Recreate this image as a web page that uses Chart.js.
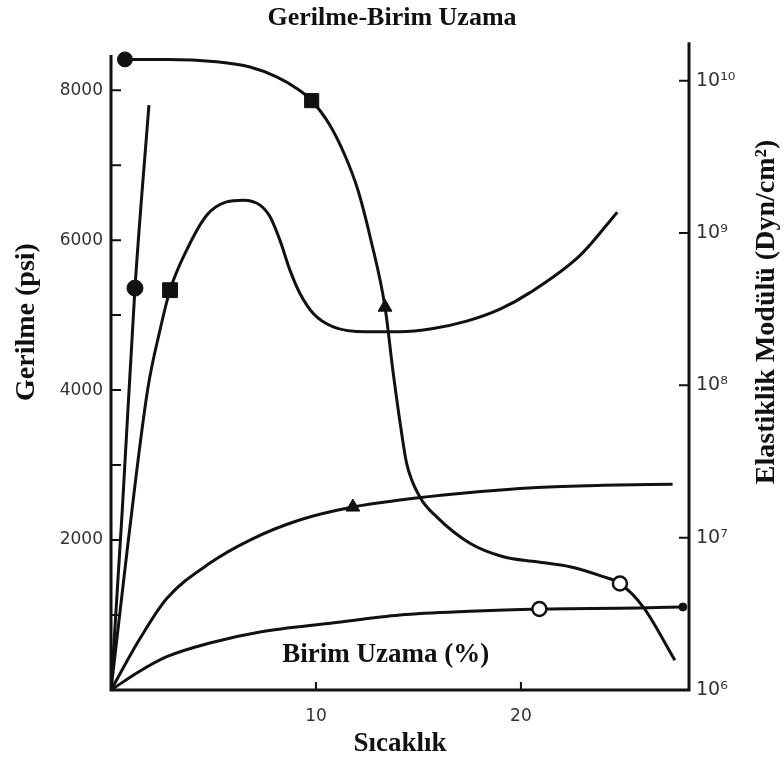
<!DOCTYPE html>
<html>
<head>
<meta charset="utf-8">
<title>Gerilme-Birim Uzama</title>
<script src="https://cdn.jsdelivr.net/npm/chart.js@4.4.1/dist/chart.umd.min.js"></script>
<style>
  html, body { margin: 0; padding: 0; background: #fff; }
  #chart { display: block; }
</style>
</head>
<body>
<canvas id="chart" width="784" height="760"></canvas>
<script>
// elastiklik modülü (sağ eksen, log) - sıcaklığa göre
var modulusX = [0.68, 2.72, 5.16, 6.78, 8.08, 9.06, 9.79, 10.68, 11.41, 12.05, 12.68, 13.37, 13.77, 14.18, 14.42, 15.07, 15.89, 17.51, 19.14, 20.77, 22.39, 24.01, 24.83, 25.97, 27.51];
var modulusY = [1.38e10, 1.38e10, 1.33e10, 1.23e10, 1.06e10, 8.9e9, 7.4e9, 5.1e9, 3.24e9, 1.91e9, 9.0e8, 3.26e8, 1.2e8, 4.85e7, 3.09e7, 1.85e7, 1.37e7, 9.2e6, 7.5e6, 6.95e6, 6.45e6, 5.55e6, 5.0e6, 3.5e6, 1.57e6];

// gerilme - birim uzama eğrileri (sol eksen, psi)
var curveAX = [0, 0.55, 1.17, 1.85];
var curveAY = [0, 2400, 5360, 7800];

var curveBX = [0, 0.83, 1.8, 2.39, 2.88, 3.69, 4.67, 5.64, 6.45, 7.27, 7.76, 8.24, 8.73, 9.22, 9.87, 10.84, 12.47, 14.1, 15.72, 17.35, 18.98, 20.44, 22.9, 24.7];
var curveBY = [0, 1960, 4027, 4800, 5333, 5867, 6333, 6511, 6533, 6467, 6311, 6000, 5600, 5289, 5022, 4844, 4778, 4778, 4822, 4920, 5080, 5300, 5800, 6373];

var curveCX = [0, 1.4, 2.72, 4.83, 6.78, 9.2, 11.8, 14.1, 17.0, 20.8, 24.0, 27.4];
var curveCY = [0, 680, 1220, 1693, 2000, 2267, 2440, 2533, 2620, 2700, 2730, 2745];

var curveDX = [0, 1.4, 2.72, 4.83, 7.27, 10.8, 14.1, 17.5, 20.9, 25.7, 27.9];
var curveDY = [0, 250, 444, 627, 773, 893, 1000, 1050, 1080, 1093, 1107];

// eksen işaretleri
var strainTicks = [10, 20];
var stressTicks = [2000, 4000, 6000, 8000];
var stressMarks = [1000, 2000, 3000, 4000, 5000, 6000, 7000, 8000];
var modulusTicks = [1e6, 1e7, 1e8, 1e9, 1e10];
var modulusTickLabels = ['10⁶', '10⁷', '10⁸', '10⁹', '10¹⁰'];

var INK = '#111';

function pts(xs, ys) {
  return xs.map(function (x, i) { return {x: x, y: ys[i]}; });
}

// only a few points on each curve carry a symbol
function marks(n, list) {
  var style = [], radius = [], fill = [], bw = [];
  for (var i = 0; i < n; i++) { style.push('circle'); radius.push(0); fill.push(INK); bw.push(1); }
  list.forEach(function (m) {
    style[m.i] = m.style;
    radius[m.i] = m.r;
    fill[m.i] = m.fill || INK;
    bw[m.i] = m.bw || 1;
  });
  return {pointStyle: style, pointRadius: radius, pointBackgroundColor: fill, pointBorderWidth: bw, pointBorderColor: INK};
}

function curve(label, xs, ys, axis, symbols) {
  return Object.assign({
    label: label,
    data: pts(xs, ys),
    yAxisID: axis,
    borderColor: INK,
    borderWidth: 3,
    fill: false,
    cubicInterpolationMode: 'monotone'
  }, marks(xs.length, symbols));
}

// axis lines and inward tick marks
var frame = {
  id: 'frame',
  beforeDatasetsDraw: function (chart) {
    var ctx = chart.ctx, a = chart.chartArea;
    var sx = chart.scales.x, sy = chart.scales.y, sr = chart.scales.yR;
    ctx.save();
    ctx.strokeStyle = INK;
    ctx.lineWidth = 3;
    ctx.beginPath();
    ctx.moveTo(a.left, sy.getPixelForValue(8470));
    ctx.lineTo(a.left, a.bottom);
    ctx.lineTo(a.right, a.bottom);
    ctx.lineTo(a.right, a.top);
    ctx.stroke();
    ctx.lineWidth = 2;
    ctx.beginPath();
    stressMarks.forEach(function (v) {
      var y = sy.getPixelForValue(v);
      ctx.moveTo(a.left, y); ctx.lineTo(a.left + 10, y);
    });
    modulusTicks.slice(1).forEach(function (v) {
      var y = sr.getPixelForValue(v);
      ctx.moveTo(a.right, y); ctx.lineTo(a.right - 10, y);
    });
    strainTicks.forEach(function (v) {
      var x = sx.getPixelForValue(v);
      ctx.moveTo(x, a.bottom); ctx.lineTo(x, a.bottom - 8);
    });
    ctx.stroke();
    ctx.restore();
  },
  afterDraw: function (chart) {
    var ctx = chart.ctx, a = chart.chartArea;
    var sx = chart.scales.x, sy = chart.scales.y;
    ctx.save();
    ctx.fillStyle = INK;
    ctx.textAlign = 'center';
    ctx.textBaseline = 'middle';
    ctx.font = 'bold 27px "Liberation Serif"';
    ctx.fillText('Birim Uzama (%)', sx.getPixelForValue(13.4), sy.getPixelForValue(467));

    ctx.font = 'bold 28px "Liberation Serif"';
    ctx.translate(27, 322);
    ctx.rotate(-Math.PI / 2);
    ctx.fillText('Gerilme (psi)', 0, 0);
    ctx.restore();

    ctx.save();
    ctx.fillStyle = INK;
    ctx.textAlign = 'center';
    ctx.textBaseline = 'middle';
    ctx.font = 'bold 28px "Liberation Serif"';
    ctx.translate(a.right + 78, 312);
    ctx.rotate(-Math.PI / 2);
    ctx.fillText('Elastiklik Modülü (Dyn/cm²)', 0, 0);
    ctx.restore();
  }
};

var tickFont = {family: 'DejaVu Sans', size: 17};

new Chart(document.getElementById('chart').getContext('2d'), {
  type: 'line',
  data: {
    datasets: [
      curve('Elastiklik Modülü', modulusX, modulusY, 'yR', [
        {i: 0, style: 'circle', r: 7.5},
        {i: 6, style: 'rect', r: 10},
        {i: 11, style: 'triangle', r: 8},
        {i: 22, style: 'circle', r: 7, fill: '#fff', bw: 2.5}
      ]),
      curve('A', curveAX, curveAY, 'y', [{i: 2, style: 'circle', r: 8}]),
      curve('B', curveBX, curveBY, 'y', [{i: 4, style: 'rect', r: 10.5}]),
      curve('C', curveCX, curveCY, 'y', [{i: 6, style: 'triangle', r: 8}]),
      curve('D', curveDX, curveDY, 'y', [
        {i: 8, style: 'circle', r: 7, fill: '#fff', bw: 2.5},
        {i: 10, style: 'circle', r: 4}
      ])
    ]
  },
  options: {
    responsive: false,
    animation: false,
    devicePixelRatio: 1,
    events: [],
    plugins: {
      legend: {display: false},
      tooltip: {enabled: false},
      title: {
        display: true,
        text: 'Gerilme-Birim Uzama',
        color: INK,
        font: {family: 'Liberation Serif', size: 26, weight: 'bold', lineHeight: 1.2},
        padding: {top: 3, bottom: 8}
      }
    },
    scales: {
      x: {
        type: 'linear',
        min: 0,
        max: 28.2,
        grid: {display: false, drawTicks: false},
        border: {display: false},
        afterBuildTicks: function (s) { s.ticks = strainTicks.map(function (v) { return {value: v}; }); },
        afterFit: function (s) { s.height = 70; },
        ticks: {padding: 16, color: '#333', font: tickFont, maxRotation: 0},
        title: {
          display: true,
          text: 'Sıcaklık',
          color: INK,
          font: {family: 'Liberation Serif', size: 27, weight: 'bold', lineHeight: 1.2},
          padding: {top: 0, bottom: 0}
        }
      },
      y: {
        position: 'left',
        min: 0,
        max: 8640,
        grid: {display: false, drawTicks: false},
        border: {display: false},
        afterBuildTicks: function (s) { s.ticks = stressTicks.map(function (v) { return {value: v}; }); },
        afterFit: function (s) { s.width = 111; },
        ticks: {
          padding: 8,
          color: '#333',
          font: tickFont,
          callback: function (v) { return String(v); }
        }
      },
      yR: {
        type: 'logarithmic',
        position: 'right',
        min: 1e6,
        max: 1.79e10,
        grid: {display: false, drawTicks: false},
        border: {display: false},
        afterBuildTicks: function (s) { s.ticks = modulusTicks.map(function (v) { return {value: v}; }); },
        afterFit: function (s) { s.width = 95; },
        ticks: {
          padding: 7,
          color: '#333',
          font: {family: 'DejaVu Sans', size: 19},
          callback: function (v, i) { return modulusTickLabels[i]; }
        }
      }
    }
  },
  plugins: [frame]
});
</script>
</body>
</html>
